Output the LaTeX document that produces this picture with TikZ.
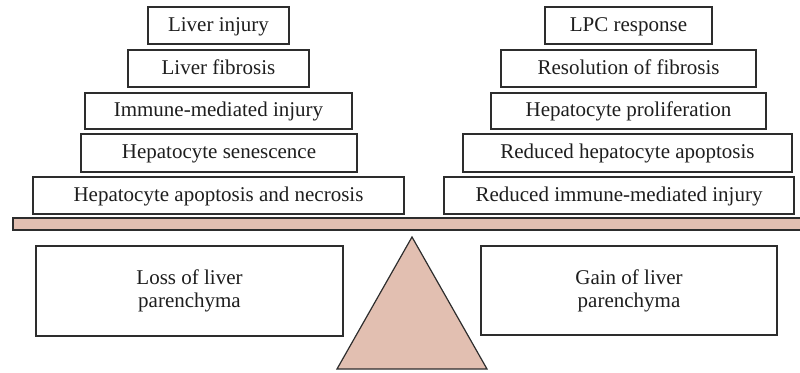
\documentclass[tikz,border=0pt]{standalone}
\usepackage{fontspec}
\setmainfont{Liberation Serif}
\definecolor{beamfill}{RGB}{226,191,177}
\definecolor{edgegray}{RGB}{45,45,45}
\definecolor{textgray}{RGB}{30,30,30}
\begin{document}
\begin{tikzpicture}[x=1pt,y=-1pt,
  tbox/.style={draw=edgegray,line width=1.2pt,fill=white,inner sep=0pt,minimum height=37pt,
    text height=17pt,text depth=6pt,text=textgray,
    font=\fontsize{21}{23}\selectfont},
  lbox/.style={draw=edgegray,line width=1.3pt,fill=white,inner sep=0pt,align=center,text=textgray,
    font=\fontsize{21}{23}\selectfont},
  beamstyle/.style={draw=edgegray,line width=1.4pt,fill=beamfill}]
\useasboundingbox (0,0) rectangle (800,372);
% left stack
\node[tbox,minimum width=141pt] (l1) at (218.5,25.5) {Liver injury};
\node[tbox,minimum width=181pt] (l2) at (218.5,68.5) {Liver fibrosis};
\node[tbox,minimum width=267pt,minimum height=36pt] (l3) at (218.5,111) {Immune-mediated injury};
\node[tbox,minimum width=276pt,minimum height=38pt] (l4) at (219,153) {Hepatocyte senescence};
\node[tbox,minimum width=371pt] (l5) at (218.5,195.5) {Hepatocyte apoptosis and necrosis};
% right stack
\node[tbox,minimum width=167pt] (r1) at (628.5,25.5) {LPC response};
\node[tbox,minimum width=255pt] (r2) at (628.5,68.5) {Resolution of fibrosis};
\node[tbox,minimum width=275pt,minimum height=36pt] (r3) at (628.5,111) {Hepatocyte proliferation};
\node[tbox,minimum width=329pt,minimum height=38pt] (r4) at (627.5,153) {Reduced hepatocyte apoptosis};
\node[tbox,minimum width=350pt] (r5) at (619,195.5) {Reduced immune-mediated injury};
% beam
\path[beamstyle] (13,218) rectangle (803,230);
% fulcrum
\coordinate (apex) at (412,237);
\coordinate (bl) at (337,369);
\coordinate (br) at (487,369);
\path[beamstyle,line width=1.2pt] (apex) -- (br) -- (bl) -- cycle;
% lower boxes
\node[lbox,minimum width=307pt,minimum height=90pt] (loss) at (189.5,291) {Loss of liver\\parenchyma};
\node[lbox,minimum width=296pt,minimum height=89pt] (gain) at (629,290.5) {Gain of liver\\parenchyma};
\end{tikzpicture}
\end{document}
